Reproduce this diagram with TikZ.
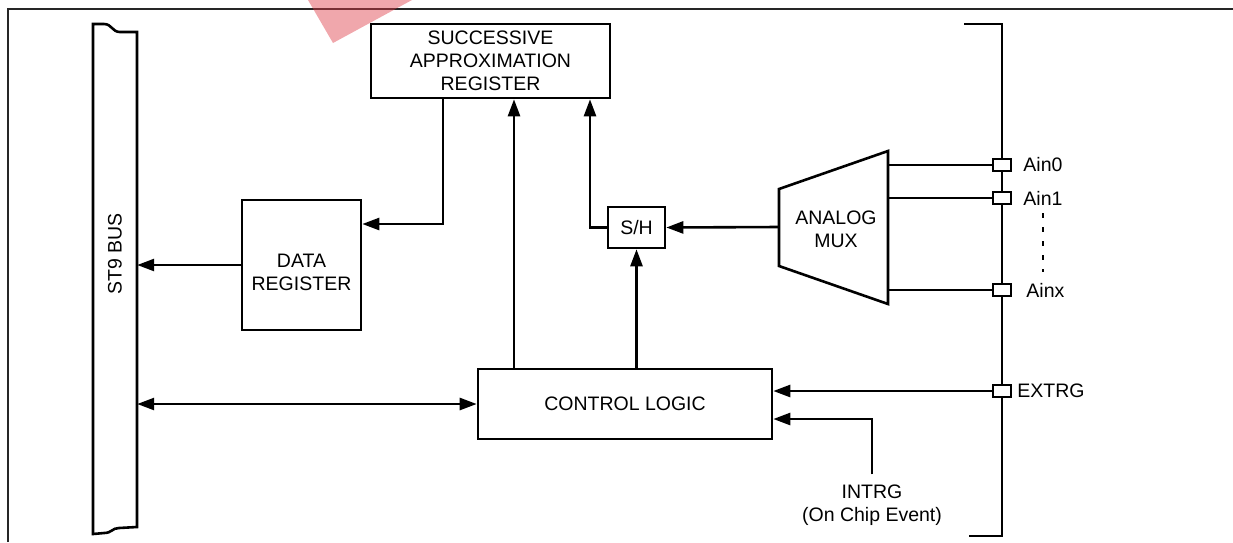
\documentclass[tikz,border=0pt]{standalone}
\usepackage{fontspec}
\setmainfont{Liberation Sans}
\usetikzlibrary{positioning,arrows.meta}

\definecolor{markred}{RGB}{222,60,70}

\begin{document}
\begin{tikzpicture}[
  x=1pt, y=-1pt,
  font=\fontsize{19.5}{23}\selectfont,
  blk/.style={draw, line width=2.6pt, inner sep=0pt, align=center},
  pinbox/.style={draw, fill=white, line width=2.4pt, minimum width=18pt,
                 minimum height=12pt, inner sep=0pt},
  sig/.style={-{Triangle[length=17pt,width=12pt]}, line width=2.6pt},
  bisig/.style={{Triangle[length=17pt,width=12pt]}-{Triangle[length=17pt,width=12pt]},
                line width=2.6pt},
  wire/.style={line width=2.6pt},
  pinlbl/.style={inner sep=0pt},
]
  \useasboundingbox (0,0) rectangle (1233,542);

  % page frame and logo mark
  \draw[line width=2.6pt, black!85] (8,542) -- (8,9) -- (1233,9);
  \fill[markred, opacity=0.45] (308,0) -- (412,0) -- (333,43) -- cycle;

  % ST9 bus
  \node[minimum width=44pt, minimum height=503pt, inner sep=0pt] (bus) at (115,279) {};
  \draw[wire] (93,24) -- (104,24) .. controls (112,24) and (112,32) .. (120,32)
    -- (137,32) -- (137,527) -- (119,528) .. controls (112,528) and (112,533) .. (104,533)
    -- (93,534) -- cycle;
  \node[rotate=90] (buslbl) at (115,254) {ST9 BUS};

  % blocks
  \node[blk, minimum width=239pt, minimum height=74pt] (sar) at (490.5,61)
    {SUCCESSIVE\\APPROXIMATION\\REGISTER};
  \node[blk, minimum width=119pt, minimum height=130pt] (dreg) at (301.5,265) {};
  \node[align=center] (dregtxt) at (301.5,272) {DATA\\REGISTER};
  \node[blk, minimum width=57pt, minimum height=41pt] (sh) at (636.5,227.5) {S/H};
  \node[blk, minimum width=294pt, minimum height=70pt] (ctrl) at (625,404) {CONTROL LOGIC};

  % analog mux
  \draw[wire] (779,189) -- (888,151) -- (888,304) -- (779,266) -- cycle;
  \coordinate (muxin) at (779,227);
  \coordinate (muxout) at (888,227);
  \node[align=center] (muxtxt) at (836,229) {ANALOG\\MUX};

  % pins
  \draw[wire] (964,24) -- (1002,24) -- (1002,536) -- (969,536);
  \node[pinbox] (ain0) at (1002,165) {};
  \node[pinbox] (ain1) at (1002,198) {};
  \node[pinbox] (ainx) at (1002,290) {};
  \node[pinbox] (extrg) at (1002,391) {};
  \node[pinlbl, right=11pt of ain0] (lbl0) {Ain0};
  \node[pinlbl, right=11pt of ain1] (lbl1) {Ain1};
  \node[pinlbl, right=14pt of ainx] (lblx) {Ainx};
  \node[pinlbl, right=5pt of extrg] (lble) {EXTRG};
  \draw[line width=2.4pt, dash pattern=on 5pt off 9pt]
    ([yshift=-8pt]lbl1.south) -- ([yshift=11pt]lbl1.south |- lblx.north);

  % connectors
  \draw[sig] ([xshift=-47.5pt]sar.south) |- ([yshift=41pt]dreg.east);
  \draw[sig] (dreg.west) -- (dreg.west -| bus.east);
  \draw[bisig] (ctrl.west -| bus.east) -- (ctrl.west);
  \draw[sig] ([xshift=-111pt]ctrl.north) -- ([xshift=-111pt]ctrl.north |- sar.south);
  \draw[sig] (sh.west) -| ([xshift=99.5pt]sar.south);
  \draw[sig] (ctrl.north -| sh.south) -- (sh.south);
  \draw[sig] (muxin) -- (sh.east);
  \foreach \p in {ain0,ain1,ainx}
    \draw[wire] (\p.west) -- (\p.west -| muxout);
  \draw[sig] (extrg.west) -- (extrg.west -| ctrl.east);
  \node[align=center, inner sep=0pt] (intrg) at (872,505) {INTRG\\(On Chip Event)};
  \draw[sig] ([yshift=10pt]intrg.north) |- ([yshift=-15pt]ctrl.east);
\end{tikzpicture}
\end{document}
